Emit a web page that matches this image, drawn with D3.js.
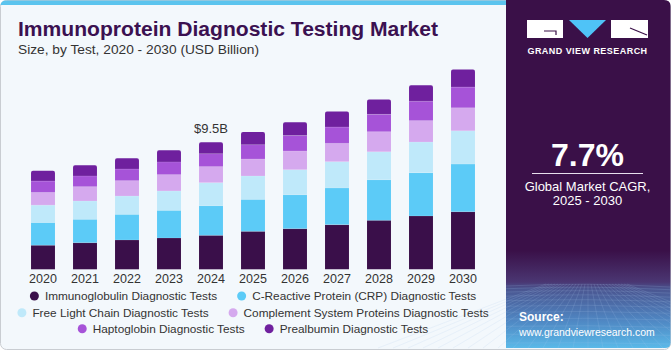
<!DOCTYPE html>
<html><head><meta charset="utf-8">
<script src="https://cdn.jsdelivr.net/npm/d3@7"></script>
<style>
html,body{margin:0;padding:0;background:#fff;}
svg{display:block;font-family:"Liberation Sans",Arial,sans-serif;}
</style></head>
<body>
<svg id="c" width="671" height="350"></svg>
<script>
const years = ["2020","2021","2022","2023","2024","2025","2026","2027","2028","2029","2030"];
const seriesNames = ["Immunoglobulin Diagnostic Tests","C-Reactive Protein (CRP) Diagnostic Tests","Free Light Chain Diagnostic Tests","Complement System Proteins Diagnostic Tests","Haptoglobin Diagnostic Tests","Prealbumin Diagnostic Tests"];
const immunoglobulin = [1.80,1.99,2.19,2.34,2.54,2.84,3.04,3.34,3.66,3.99,4.31];
const crp            = [1.70,1.75,1.92,2.07,2.22,2.39,2.54,2.74,3.04,3.24,3.56];
const freeLightChain = [1.30,1.37,1.37,1.45,1.72,1.75,1.87,1.97,2.09,2.29,2.49];
const complement     = [0.95,1.07,1.15,1.22,1.20,1.27,1.40,1.37,1.50,1.60,1.72];
const haptoglobin    = [0.85,0.80,0.87,0.95,0.97,1.07,1.15,1.22,1.30,1.45,1.55];
const prealbumin     = [0.77,0.80,0.80,0.87,0.85,0.95,1.00,1.17,1.12,1.20,1.32];
const colors = ["#3a0f4a","#5ccbf7","#bfe9fa","#d5a9ee","#a653d8","#6f209e"];
const annotationYear = "2024", annotationText = "$9.5B";

const svg = d3.select("#c");
const W = 671, H = 350;

function fit(sel, w){ const l = sel.node().getComputedTextLength(); const fs = parseFloat(sel.attr("font-size")); sel.attr("font-size", fs*w/l); }

// background frame
svg.append("rect").attr("x",0.5).attr("y",0.5).attr("width",W-1).attr("height",H-1).attr("rx",6)
  .attr("fill","#f3f8fc").attr("stroke","#c9cdd2");
svg.append("path").attr("d","M0.5,6 Q0.5,0.5 6,0.5 L506,0.5 L506,5 L0.5,5 Z").attr("fill","#5bc4ee");

// right panel
const defs = svg.append("defs");
const g1 = defs.append("linearGradient").attr("id","pg").attr("x1",0).attr("y1",0).attr("x2",0).attr("y2",1);
[[0,"#3a1048"],[0.72,"#3a1048"],[0.81,"#4a3672"],[0.83,"#4a5590"],[0.92,"#4f86c2"],[1,"#5ab9e8"]]
  .forEach(s=>g1.append("stop").attr("offset",s[0]).attr("stop-color",s[1]));
svg.append("path").attr("d","M506,0 L664,0 Q670.5,0 670.5,6 L670.5,343 Q670.5,348 665,348 L506,348 Z").attr("fill","url(#pg)");
// mesh decoration
const mesh = svg.append("g").attr("stroke","#a8c8ee").attr("stroke-opacity",0.28).attr("stroke-width",0.6).attr("fill","none");
for(let i=0;i<14;i++){ const yy=286+i*i*0.33+i*2.4; mesh.append("path").attr("d",`M506,${yy} Q588,${yy-4+i*0.3} 670,${yy+1}`); }
for(let i=-6;i<22;i++){ const xx=588+(i-8)*9; mesh.append("line").attr("x1",588+(i-8)*3).attr("y1",284).attr("x2",xx+(i-8)*6).attr("y2",348); }

// logo
const lg = svg.append("g");
lg.append("rect").attr("x",527).attr("y",20).attr("width",36).attr("height",18).attr("fill","#fff");
lg.append("path").attr("d","M544,31 L556,31 L556,35").attr("stroke","#3a1048").attr("stroke-width",1.2).attr("fill","none");
lg.append("path").attr("d","M569,20 L606,20 L587.5,38 Z").attr("fill","#4fc3f7");
lg.append("rect").attr("x",611).attr("y",20).attr("width",37).attr("height",18).attr("fill","#fff");
lg.append("path").attr("d","M630,28 L647,35").attr("stroke","#3a1048").attr("stroke-width",1.2);
lg.append("text").attr("x",587.5).attr("y",54).attr("text-anchor","middle").attr("fill","#fff")
  .attr("font-size",9).attr("font-weight","bold").attr("letter-spacing",0.45).text("GRAND VIEW RESEARCH");

svg.append("text").attr("x",587.5).attr("y",166).attr("text-anchor","middle").attr("fill","#fff")
  .attr("font-size",32).attr("font-weight","bold").text("7.7%");
svg.append("line").attr("x1",532).attr("x2",643).attr("y1",173.5).attr("y2",173.5).attr("stroke","#e8e0ee").attr("stroke-width",1);
svg.append("text").attr("x",587.5).attr("y",191).attr("text-anchor","middle").attr("fill","#fff").attr("font-size",13).text("Global Market CAGR,");
svg.append("text").attr("x",587.5).attr("y",205).attr("text-anchor","middle").attr("fill","#fff").attr("font-size",13).text("2025 - 2030");
svg.append("text").attr("x",519).attr("y",321).attr("fill","#fff").attr("font-size",12).attr("font-weight","bold").text("Source:");
const url = svg.append("text").attr("x",519).attr("y",336).attr("fill","#fff").attr("font-size",12).text("www.grandviewresearch.com");
fit(url, 136);

// titles
const t1 = svg.append("text").attr("x",18).attr("y",36).attr("fill","#3b1151").attr("font-size",20).attr("font-weight","bold").text("Immunoprotein Diagnostic Testing Market");
t1.attr("textLength",420).attr("lengthAdjust","spacingAndGlyphs");
const t2 = svg.append("text").attr("x",18).attr("y",54).attr("fill","#333").attr("font-size",13.5).text("Size, by Test, 2020 - 2030 (USD Billion)");
t2.attr("textLength",241).attr("lengthAdjust","spacingAndGlyphs");

// chart
const series = [immunoglobulin,crp,freeLightChain,complement,haptoglobin,prealbumin];
const rows = years.map((yr,i)=>{ const o={year:yr}; series.forEach((s,k)=>o["s"+k]=s[i]); return o; });
const keys = series.map((s,k)=>"s"+k);
const stacked = d3.stack().keys(keys)(rows);
const totals = rows.map(r=>keys.reduce((a,k)=>a+r[k],0));
const x = d3.scaleBand().domain(years).range([22,484]).paddingInner(0.43).paddingOuter(0.215);
const baseY = 269.3;
const pxPerUnit = 127/9.5;
const y = d3.scaleLinear().domain([0,1]).range([baseY, baseY-pxPerUnit]);

const gb = svg.append("g");
stacked.forEach((layer,k)=>{
  gb.selectAll(null).data(layer).join("path")
    .attr("fill",colors[k])
    .attr("d",(d)=>{
      const x0=x(d.data.year), w=x.bandwidth(), y0=y(d[0]), y1=y(d[1]);
      if(k===stacked.length-1){ const r=2; return `M${x0},${y0} L${x0},${y1+r} Q${x0},${y1} ${x0+r},${y1} L${x0+w-r},${y1} Q${x0+w},${y1} ${x0+w},${y1+r} L${x0+w},${y0} Z`; }
      return `M${x0},${y0} L${x0},${y1} L${x0+w},${y1} L${x0+w},${y0} Z`;
    });
});
stacked.slice(0,-1).forEach((layer)=>{
  gb.selectAll(null).data(layer).join("line")
    .attr("x1",d=>x(d.data.year)).attr("x2",d=>x(d.data.year)+x.bandwidth())
    .attr("y1",d=>y(d[1])).attr("y2",d=>y(d[1]))
    .attr("stroke","#ffffff").attr("stroke-opacity",0.25).attr("stroke-width",0.6);
});

// x axis labels
const xa = svg.append("g").attr("transform",`translate(0,${baseY})`).call(d3.axisBottom(x).tickSize(0).tickPadding(5));
xa.select(".domain").remove();
xa.selectAll("text").attr("font-size",12.5).attr("fill","#333").attr("font-family","'Liberation Sans',Arial,sans-serif");

// annotation
const ai = years.indexOf(annotationYear);
svg.append("text").attr("x",x(annotationYear)+x.bandwidth()/2).attr("y",y(totals[ai])-9.5)
  .attr("text-anchor","middle").attr("fill","#333").attr("font-size",13).text(annotationText);

// legend
const legendRows = [[0,1],[2,3],[4,5]];
const rowY = [296,312.7,328.7];
const cx = 253;
legendRows.forEach((idxs,ri)=>{
  const g = svg.append("g");
  let cur = 0;
  idxs.forEach((k)=>{
    const it = g.append("g");
    it.append("circle").attr("cx",4.5).attr("cy",0).attr("r",4.5).attr("fill",colors[k]);
    const t = it.append("text").attr("x",15).attr("y",4.2).attr("font-size",11.8).attr("fill","#333").text(seriesNames[k]);
    const w = 15 + t.node().getComputedTextLength();
    it.attr("transform",`translate(${cur},0)`);
    cur += w + 20;
  });
  const total = cur - 20;
  g.attr("transform",`translate(${cx-total/2},${rowY[ri]})`);
});
</script>
</body></html>
